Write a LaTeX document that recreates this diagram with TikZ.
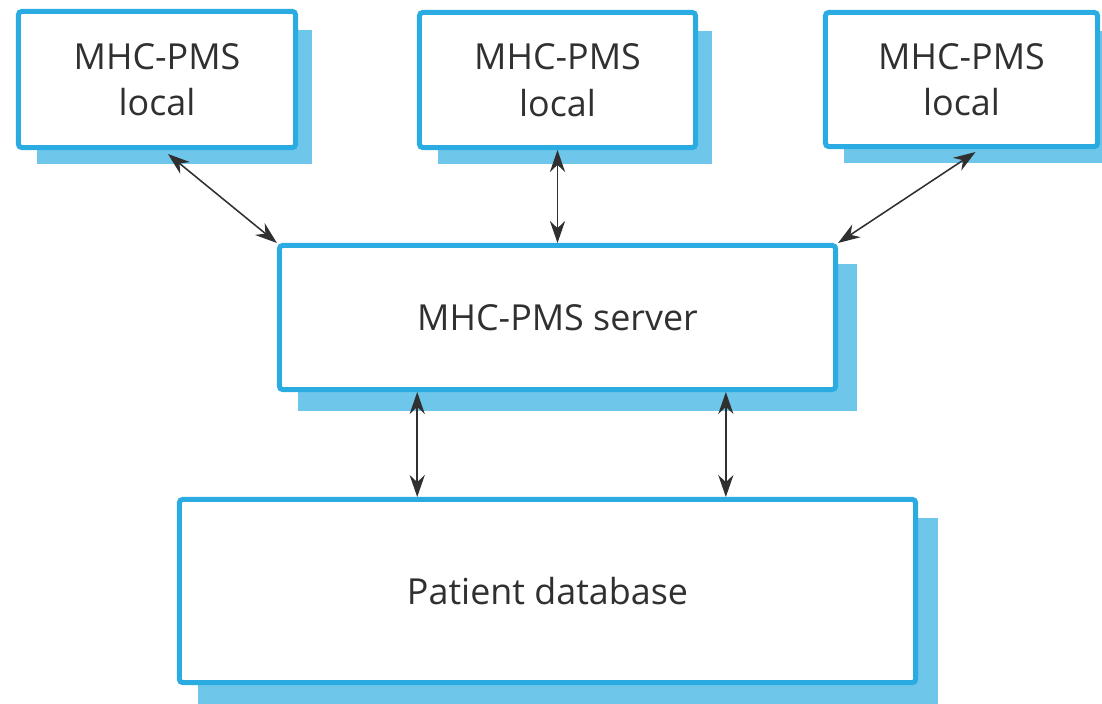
\documentclass[tikz,border=0pt]{standalone}
\usepackage{fontspec}
\setmainfont{Open Sans}
\usepackage{tikz}
\usetikzlibrary{
	arrows.meta,
	backgrounds,
	calc,
	}
\definecolor{boxblue}{HTML}{2AACE2}
\definecolor{shadeblue}{HTML}{6EC6EA}
\definecolor{inkgray}{HTML}{303030}

\begin{document}
\begin{tikzpicture}[x=0.025cm,y=-0.025cm,
	unit/.style={draw=boxblue,fill=white,line width=0.125cm,rounded corners=0.08cm,shape=rectangle,align=center,text=inkgray,font={\fontsize{25.5}{33}\selectfont}},
	link/.style={draw=inkgray,line width=1.1pt,{Stealth[length=5.5mm,width=3.8mm]}-{Stealth[length=5.5mm,width=3.8mm]}},
	]
\useasboundingbox (0,0) rectangle (1102,703);
\node[unit,minimum width=6.925cm,minimum height=3.4cm] (tl) at (157,79.5) {MHC-PMS\\local};
\node[unit,minimum width=6.9cm,minimum height=3.375cm] (tm) at (557.5,80) {MHC-PMS\\local};
\node[unit,minimum width=6.8cm,minimum height=3.35cm] (tr) at (961.5,79.5) {MHC-PMS\\local};
\node[unit,minimum width=13.9cm,minimum height=3.6cm] (srv) at (557.5,317.5) {MHC-PMS server};
\node[unit,minimum width=18.4cm,minimum height=4.575cm] (db) at (547.5,591) {Patient database};
\begin{scope}[on background layer]
\foreach \n/\d in {tl/14,tm/14,tr/14,srv/19,db/20}
	\fill[shadeblue] ($(\n.north west)+(21,21)$) rectangle ($(\n.south east)+(\d,\d)$);
\end{scope}
\draw[link] ($(tl.south)+(11,4)$) -- (srv.north west);
\draw[link] (tm.south) -- (srv.north);
\draw[link] ($(tr.south)+(14,3)$) -- (srv.north east);
\draw[link] ($(srv.south west)!0.25!(srv.south east)$) coordinate (s1) -- (s1 |- db.north);
\draw[link] ($(srv.south west)!0.8!(srv.south east)$) coordinate (s2) -- (s2 |- db.north);
\end{tikzpicture}
\end{document}
